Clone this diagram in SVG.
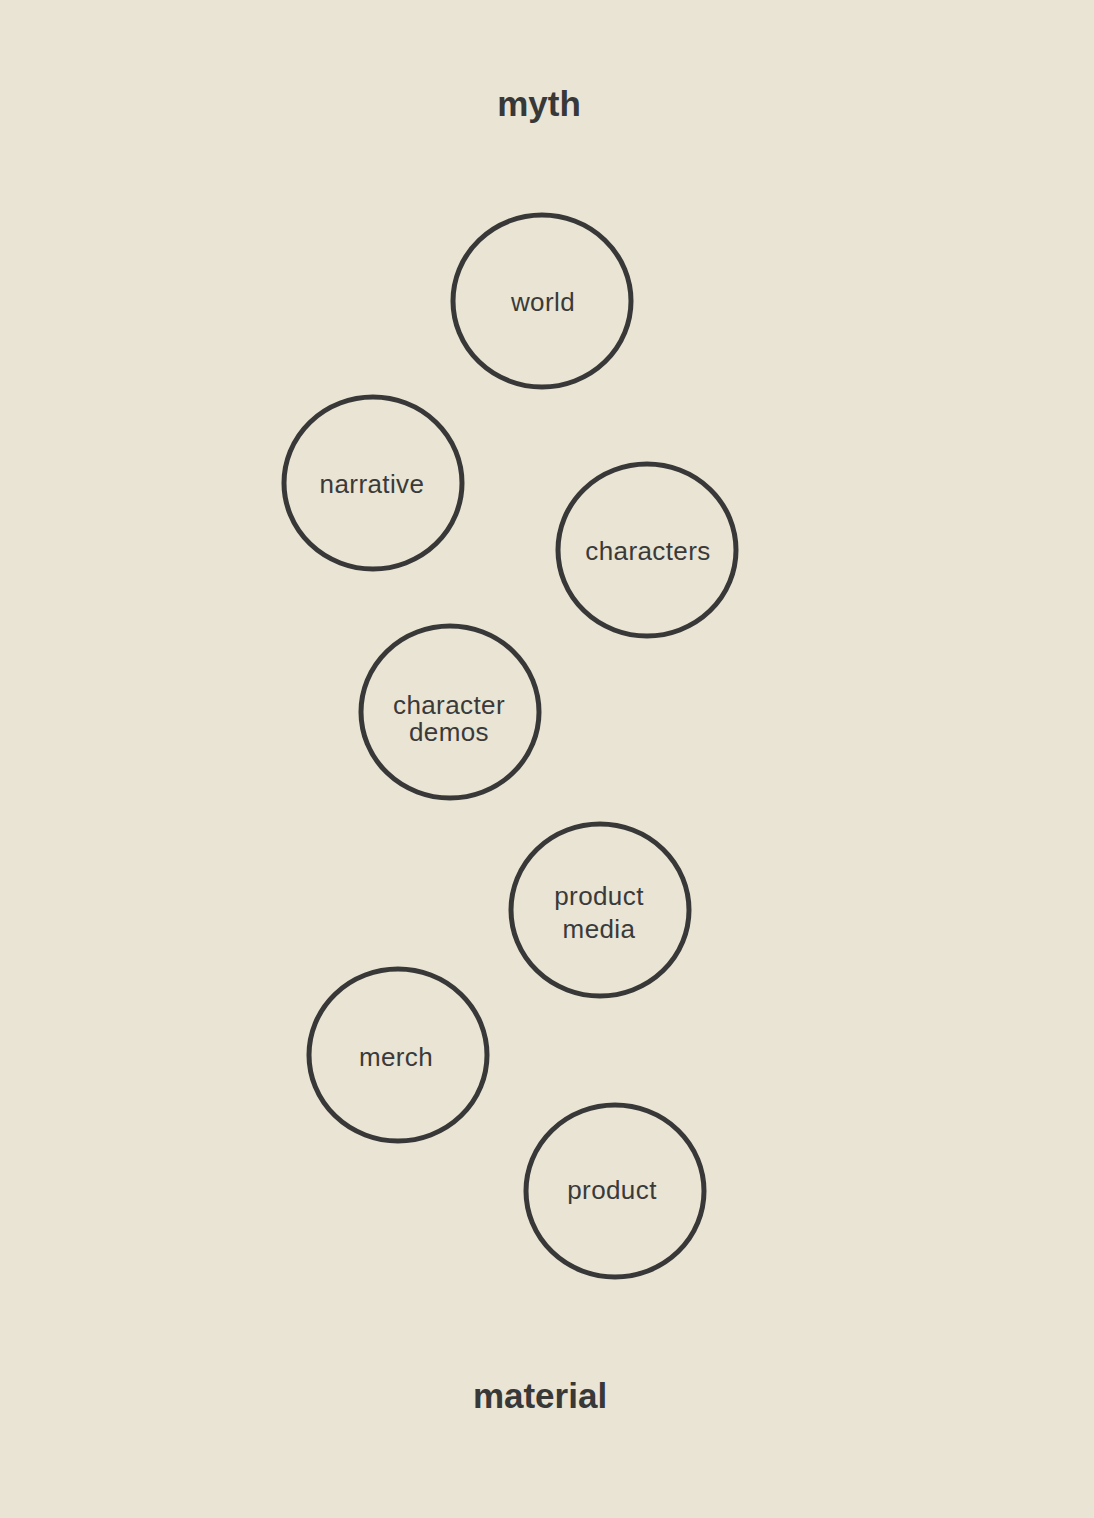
<svg xmlns="http://www.w3.org/2000/svg" width="1094" height="1518" viewBox="0 0 1094 1518">
<style>
.bg{fill:#E9E4D3}
.c{fill:none;stroke:#383838;stroke-width:5;stroke-linejoin:round}
.t{font-family:"Liberation Sans",Arial,sans-serif;font-size:26px;fill:#3a3a3a;text-anchor:middle;letter-spacing:0.4px}
.h{font-family:"Liberation Sans",Arial,sans-serif;font-size:35px;font-weight:bold;fill:#383838;text-anchor:middle}
</style>
<rect class="bg" width="1094" height="1518"/>
<text class="h" x="539" y="116">myth</text>
<text class="h" x="540" y="1408">material</text>
<g id="world"><ellipse class="c" cx="542" cy="301" rx="89" ry="86"/><text class="t" x="543" y="311">world</text></g>
<g id="narrative"><ellipse class="c" cx="373" cy="483" rx="89" ry="86"/><text class="t" x="372" y="493">narrative</text></g>
<g id="characters"><ellipse class="c" cx="647" cy="550" rx="89" ry="86"/><text class="t" x="648" y="560">characters</text></g>
<g id="character-demos"><ellipse class="c" cx="450" cy="712" rx="89" ry="86"/><text class="t" x="449" y="714">character</text><text class="t" x="449" y="741">demos</text></g>
<g id="product-media"><ellipse class="c" cx="600" cy="910" rx="89" ry="86"/><text class="t" x="599" y="905">product</text><text class="t" x="599" y="938">media</text></g>
<g id="merch"><ellipse class="c" cx="398" cy="1055" rx="89" ry="86"/><text class="t" x="396" y="1066">merch</text></g>
<g id="product"><ellipse class="c" cx="615" cy="1191" rx="89" ry="86"/><text class="t" x="612" y="1199">product</text></g>
<g id="connectors"></g>
</svg>
